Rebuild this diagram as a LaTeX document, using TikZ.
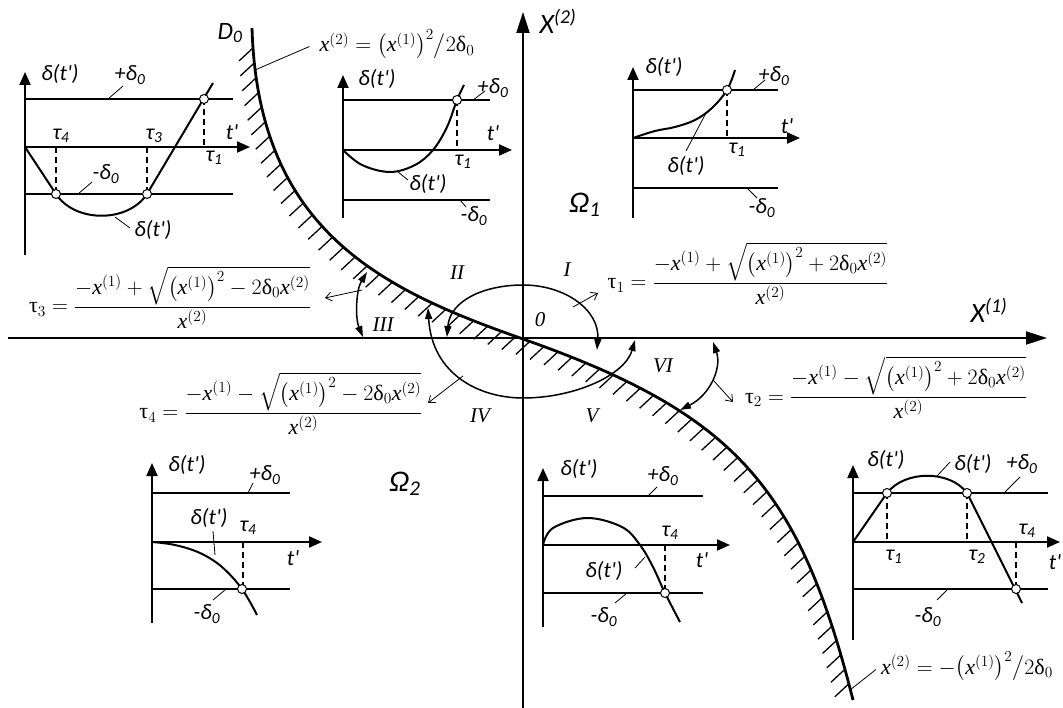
\RequirePackage{fix-cm}
\documentclass[tikz,border=0pt]{standalone}
\usepackage{amsmath}
\usepackage{fontspec}
\usetikzlibrary{arrows.meta,decorations.markings}
\newfontfamily\lblfont{Carlito}
\newfontfamily\tnrfont{Liberation Serif}
\newcommand\xv{\mbox{\tnrfont\itshape x}}
\newcommand\xone{\xv^{(1)}}
\newcommand\xtwo{\xv^{(2)}}
\newcommand\utau{\mbox{\tnrfont τ}}
\newcommand\udel{\mbox{\tnrfont δ}}
\newcommand\dsub[1]{δ\textsubscript{#1}}
\newcommand\tsub[1]{τ\textsubscript{#1}}
\begin{document}
\begin{tikzpicture}[x=1pt,y=-1pt,
  ax/.style={line width=2pt,-{Triangle[length=13pt,width=11pt]}},
  mainax/.style={line width=2pt,-{Triangle[length=21pt,width=13pt]}},
  lev/.style={line width=1.1pt},
  sig/.style={line width=2pt},
  dsh/.style={line width=1.3pt,dash pattern=on 6pt off 4pt},
  dotc/.style={circle,draw,fill=white,inner sep=0pt,minimum size=9pt,line width=1pt},
  ldr/.style={line width=0.8pt},
  lbl/.style={font=\lblfont\itshape\fontsize{22}{24}\selectfont,inner sep=0pt},
  bigl/.style={font=\lblfont\itshape\fontsize{30}{32}\selectfont,inner sep=0pt},
  rom/.style={font=\tnrfont\itshape\fontsize{21}{24}\selectfont,inner sep=0pt},
  frm/.style={font=\fontsize{22}{26}\selectfont,inner sep=0pt,anchor=base},
  arcar/.style={line width=1.5pt,{Triangle[length=11pt,width=7pt]}-{Triangle[length=11pt,width=7pt]}},
  ptr/.style={line width=0.8pt,-{Straight Barb[length=6pt,width=9pt]}},
]
\useasboundingbox (0,0) rectangle (1063,708);

% ================= Inset A (top left)
\coordinate (A0) at (25,147);
\coordinate (Ab) at (25,255);
\coordinate (At) at (25,72);
\coordinate (Ar) at (250,147);
\draw[ax] (Ab) -- (At);
\draw[ax] (A0) -- (Ar);
\draw[lev] (25,99) coordinate (Apl) -- (233,99) coordinate (Apr);
\draw[lev] (25,194) coordinate (Aml) -- (233,194) coordinate (Amr);
\draw[sig] (A0) -- (56,194) .. controls (75,223) and (128,223) .. (147,194) -- (213,83);
\draw[dsh] (56,147) coordinate (Ad1) -- (56,194);
\draw[dsh] (147,147) coordinate (Ad2) -- (147,194);
\draw[dsh] (204,99) -- (204,147) coordinate (Ad3);
\node[dotc] (A1) at (56,194) {};
\node[dotc] (A2) at (147,194) {};
\node[dotc] (A3) at (204,99) {};
\node[lbl] (Ald) at (60,74) {δ(t')};
\node[lbl] (Alp) at (130,75) {+\dsub{0}};
\node[lbl] (Alt4) at (61,136) {\tsub{4}};
\node[lbl] (Alt3) at (154,136) {\tsub{3}};
\node[lbl] (Alt) at (232,132) {t'};
\node[lbl] (Alt1) at (214,158) {\tsub{1}};
\node[lbl] (Alm) at (106,174) {-\dsub{0}};
\node[lbl] (Ald2) at (153,230) {δ(t')};
\draw[ldr] (108,99) -- (123,86);
\draw[ldr] (78,194) -- (92,182);
\draw[ldr] (115,217) -- (130,228);

% ================= Inset B (top middle)
\coordinate (B0) at (343,150);
\draw[ax] (343,218) -- (343,75);
\draw[ax] (B0) -- (512,150);
\draw[lev] (343,100) -- (490,100);
\draw[lev] (343,200) -- (490,200);
\draw[sig] plot[smooth,tension=0.6] coordinates {(343,150) (362,165) (390,172) (415,165) (433,150) (447,127) (457,100) (464,85)};
\draw[dsh] (457,100) -- (457,150);
\node[dotc] (B1) at (457,100) {};
\node[lbl] (Bld) at (377,79) {δ(t')};
\node[lbl] (Blp) at (493,88) {+\dsub{0}};
\node[lbl] (Blt) at (493,133) {t'};
\node[lbl] (Blt1) at (463,162) {\tsub{1}};
\node[lbl] (Bld2) at (428,184) {δ(t')};
\node[lbl] (Blm) at (474,216) {-\dsub{0}};
\draw[ldr] (473,100) -- (485,91);
\draw[ldr] (398,172) -- (408,180);
\draw[ldr] (460,200) -- (466,207);

% ================= Inset C (top right)
\coordinate (C0) at (633,138);
\draw[ax] (633,218) -- (633,67);
\draw[ax] (C0) -- (800,138);
\draw[lev] (633,90) -- (778,90);
\draw[lev] (633,188) -- (778,188);
\draw[sig] plot[smooth,tension=0.6] coordinates {(633,138) (655,131) (675,127) (695,120) (712,108) (727,90) (735,70)};
\draw[dsh] (727,90) -- (727,138);
\node[dotc] (C1) at (727,90) {};
\node[lbl] (Cld) at (664,67) {δ(t')};
\node[lbl] (Clp) at (774,76) {+\dsub{0}};
\node[lbl] (Clt) at (787,126) {t'};
\node[lbl] (Clt1) at (737,150) {\tsub{1}};
\node[lbl] (Cld2) at (686,166) {δ(t')};
\node[lbl] (Clm) at (762,208) {-\dsub{0}};
\draw[ldr] (753,90) -- (765,80);
\draw[ldr] (706,113) -- (686,151);
\draw[ldr] (747,188) -- (757,198);

% ================= Inset D (bottom left)
\coordinate (D0c) at (152,542);
\draw[ax] (152,623) -- (152,463);
\draw[ax] (D0c) -- (322,542);
\draw[lev] (152,493) -- (290,493);
\draw[lev] (152,589) -- (290,589);
\draw[sig] plot[smooth,tension=0.6] coordinates {(152,542) (175,545) (200,553) (222,567) (242,589) (257,615)};
\draw[dsh] (243,542) -- (243,589);
\node[dotc] (D1) at (242,589) {};
\node[lbl] (Dld) at (187,465) {δ(t')};
\node[lbl] (Dlp) at (265,475) {+\dsub{0}};
\node[lbl] (Dld2) at (209,518) {δ(t')};
\node[lbl] (Dlt4) at (248,528) {\tsub{4}};
\node[lbl] (Dlt) at (293,558) {t'};
\node[lbl] (Dlm) at (207,614) {-\dsub{0}};
\draw[ldr] (248,493) -- (253,483);
\draw[ldr] (213,531) -- (215,555);
\draw[ldr] (225,590) -- (213,600);

% ================= Inset E (bottom middle)
\coordinate (E0) at (543,545);
\draw[ax] (543,627) -- (543,468);
\draw[ax] (E0) -- (730,545);
\draw[lev] (543,496) -- (703,496);
\draw[lev] (543,593) -- (703,593);
\draw[sig] plot[smooth,tension=0.6] coordinates {(543,545) (553,528) (587,518) (622,527) (640,545) (653,567) (665,593) (680,622)};
\draw[dsh] (665,545) -- (665,593);
\node[dotc] (E1) at (665,593) {};
\node[lbl] (Eld) at (579,469) {δ(t')};
\node[lbl] (Elp) at (663,476) {+\dsub{0}};
\node[lbl] (Elt4) at (670,533) {\tsub{4}};
\node[lbl] (Elt) at (702,560) {t'};
\node[lbl] (Eld2) at (604,571) {δ(t')};
\node[lbl] (Elm) at (604,617) {-\dsub{0}};
\draw[ldr] (648,496) -- (657,487);
\draw[ldr] (635,568) -- (645,557);
\draw[ldr] (615,603) -- (627,593);

% ================= Inset F (bottom right)
\coordinate (F0) at (853,542);
\draw[ax] (853,640) -- (853,465);
\draw[ax] (F0) -- (1060,542);
\draw[lev] (853,493) -- (1048,493);
\draw[lev] (853,589) -- (1048,589);
\draw[sig] (F0) -- (887,493) .. controls (905,470) and (950,470) .. (967,493) -- (1022,603);
\draw[dsh] (887,493) -- (887,542);
\draw[dsh] (967,493) -- (967,542);
\draw[dsh] (1016,542) -- (1016,589);
\node[dotc] (F1) at (887,493) {};
\node[dotc] (F2) at (967,493) {};
\node[dotc] (F3) at (1016,589) {};
\node[lbl] (Fld) at (886,460) {δ(t')};
\node[lbl] (Fld2) at (973,464) {δ(t')};
\node[lbl] (Flp) at (1022,464) {+\dsub{0}};
\node[lbl] (Flt1) at (894,557) {\tsub{1}};
\node[lbl] (Flt2) at (977,557) {\tsub{2}};
\node[lbl] (Flt4) at (1027,531) {\tsub{4}};
\node[lbl] (Flt) at (1055,562) {t'};
\node[lbl] (Flm) at (928,617) {-\dsub{0}};
\draw[ldr] (937,476) -- (950,462);
\draw[ldr] (1005,492) -- (1020,477);
\draw[ldr] (937,600) -- (947,590);

% ================= main axes
\coordinate (Ob) at (523,708);
\coordinate (Ot) at (523,12);
\coordinate (Ol) at (8,338);
\coordinate (Or) at (1047,338);
\draw[mainax] (Ob) -- (Ot);
\draw[mainax] (Ol) -- (Or);
\node[lbl,font=\lblfont\itshape\fontsize{28}{30}\selectfont] (X2) at (558,21) {X\textsuperscript{(2)}};
\node[lbl,font=\lblfont\itshape\fontsize{28}{30}\selectfont] (X1) at (989,310) {X\textsuperscript{(1)}};
\node[lbl,font=\lblfont\itshape\fontsize{25}{27}\selectfont] (D0) at (230,33) {D\textsubscript{0}};
\node[bigl] (W1) at (585,205) {Ω\textsubscript{1}};
\node[bigl] (W2) at (405,484) {Ω\textsubscript{2}};
\node[rom] (zero) at (540,320) {0};

% ================= switching curve with hatching
\coordinate (Sw0) at (252,28);
\coordinate (Sw1) at (523,339);
\coordinate (Sw2) at (853,700);
\draw[line width=2.8pt, postaction={decorate}, decoration={markings,
   mark=between positions 20pt and -4pt step 15pt with {\pgftransformresetnontranslations \draw[line width=1.3pt] (0,0) -- (-14,13);}}]
  (Sw0) .. controls (258,230) and (380,289) .. (Sw1) .. controls (733,413) and (799,485) .. (Sw2);

% ================= region labels
\node[rom] (r1) at (567,270) {I};
\node[rom] (r2) at (457,273) {II};
\node[rom] (r3) at (383,325) {III};
\node[rom] (r4) at (480,416) {IV};
\node[rom] (r5) at (592,416) {V};
\node[rom] (r6) at (663,366) {VI};

% ================= transition arcs
\coordinate (u0) at (447,337); \coordinate (u1) at (523,285); \coordinate (u2) at (597,350);
\draw[arcar] (u0) .. controls (450,300) and (485,285) .. (u1) .. controls (565,285) and (600,310) .. (u2);
\coordinate (l0) at (428,308); \coordinate (l1) at (523,398); \coordinate (l2) at (635,340);
\draw[arcar] (l0) .. controls (432,375) and (480,398) .. (l1) .. controls (575,398) and (625,375) .. (l2);
\coordinate (m0) at (367,272); \coordinate (m1) at (363,337);
\draw[arcar] (m0) .. controls (356,290) and (355,318) .. (m1);
\coordinate (v0) at (713,342); \coordinate (v1) at (680,410);
\draw[arcar] (v0) .. controls (722,368) and (710,395) .. (v1);

% ================= formulas
\node[frm] (T1) at (748,289) {$\displaystyle \utau_1=\frac{-\xone+\sqrt{\bigl(\xone\bigr)^2+2\udel_0\xtwo}}{\xtwo}$};
\node[frm] (T2) at (886,403) {$\displaystyle \utau_2=\frac{-\xone-\sqrt{\bigl(\xone\bigr)^2+2\udel_0\xtwo}}{\xtwo}$};
\node[frm] (T3) at (170,313) {$\displaystyle \utau_3=\frac{-\xone+\sqrt{\bigl(\xone\bigr)^2-2\udel_0\xtwo}}{\xtwo}$};
\node[frm] (T4) at (281,419) {$\displaystyle \utau_4=\frac{-\xone-\sqrt{\bigl(\xone\bigr)^2-2\udel_0\xtwo}}{\xtwo}$};
\node[frm] (P1) at (397,52) {$\xtwo=\bigl(\xone\bigr)^2\big/2\udel_0$};
\node[frm] (P2) at (967,674) {$\xtwo=-\bigl(\xone\bigr)^2\big/2\udel_0$};

\coordinate (p1a) at (573,307); \coordinate (p1b) at (598,293);
\coordinate (p2a) at (713,380); \coordinate (p2b) at (733,402);
\coordinate (p3a) at (362,290); \coordinate (p3b) at (325,298);
\coordinate (p4a) at (463,376); \coordinate (p4b) at (428,403);
\draw[ptr] (p1a) -- (p1b);
\draw[ptr] (p2a) -- (p2b);
\draw[ptr] (p3a) -- (p3b);
\draw[ptr] (p4a) -- (p4b);
\coordinate (q1) at (255,70); \coordinate (q2) at (850,690);
\draw[ldr] (P1.west) ++(-10,2) -- (q1);
\draw[ldr] (P2.west) ++(-5,3) -- (q2);
\end{tikzpicture}
\end{document}
